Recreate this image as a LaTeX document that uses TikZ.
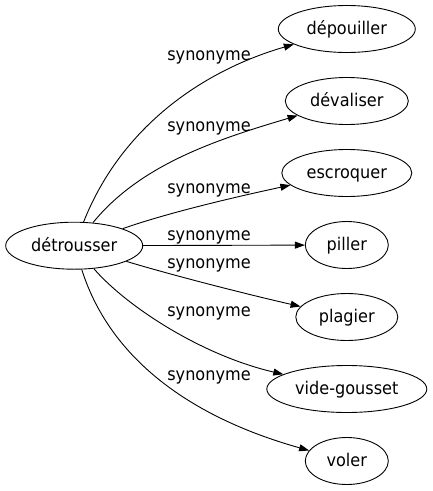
\documentclass[tikz,border=0pt]{standalone}
\usepackage{fontspec}
\setmainfont{DejaVu Sans}[FakeStretch=0.92]
\usetikzlibrary{shapes.geometric,arrows.meta}
\begin{document}
\begin{tikzpicture}[x=1pt,y=-1pt,
  every node/.style={font=\fontsize{17.5}{20}\selectfont},
  word/.style={ellipse,draw,line width=0.9pt,inner sep=0pt,minimum height=47pt,text height=12pt,text depth=1.4pt},
  lab/.style={anchor=base,inner sep=0pt},
  rel/.style={line width=0.9pt,-{Triangle[length=10pt,width=7pt]}}]
\useasboundingbox (0,0) rectangle (432,491);
\node[word,minimum width=137pt] (det) at (74.2,245.7) {détrousser};
\node[word,minimum width=137pt] (n1) at (346.8,29) {dépouiller};
\node[word,minimum width=123pt] (n2) at (346.8,101) {dévaliser};
\node[word,minimum width=130pt] (n3) at (346.8,173) {escroquer};
\node[word,minimum width=83pt] (n4) at (346.8,245) {piller};
\node[word,minimum width=102pt] (n5) at (346.8,317) {plagier};
\node[word,minimum width=160pt] (n6) at (346.8,389) {vide-gousset};
\node[word,minimum width=83pt] (n7) at (346.8,461) {voler};
\node[lab] (l1) at (209,60) {synonyme};
\node[lab] (l2) at (209,131.7) {synonyme};
\node[lab] (l3) at (209,193.3) {synonyme};
\node[lab] (l4) at (209,240) {synonyme};
\node[lab] (l5) at (209,268.3) {synonyme};
\node[lab] (l6) at (209,316.7) {synonyme};
\node[lab] (l7) at (209,380.7) {synonyme};
\draw[rel] (det) .. controls (122,125) and (205,70) .. (n1);
\draw[rel] (det) .. controls (140,165) and (215,140) .. (n2);
\draw[rel] (det) .. controls (170,212) and (240,196) .. (n3);
\draw[rel] (det) -- (n4);
\draw[rel] (det) .. controls (175,276) and (250,295) .. (n5);
\draw[rel] (det) .. controls (125,305) and (200,355) .. (n6);
\draw[rel] (det) .. controls (112,365) and (200,420) .. (n7);
\end{tikzpicture}
\end{document}
